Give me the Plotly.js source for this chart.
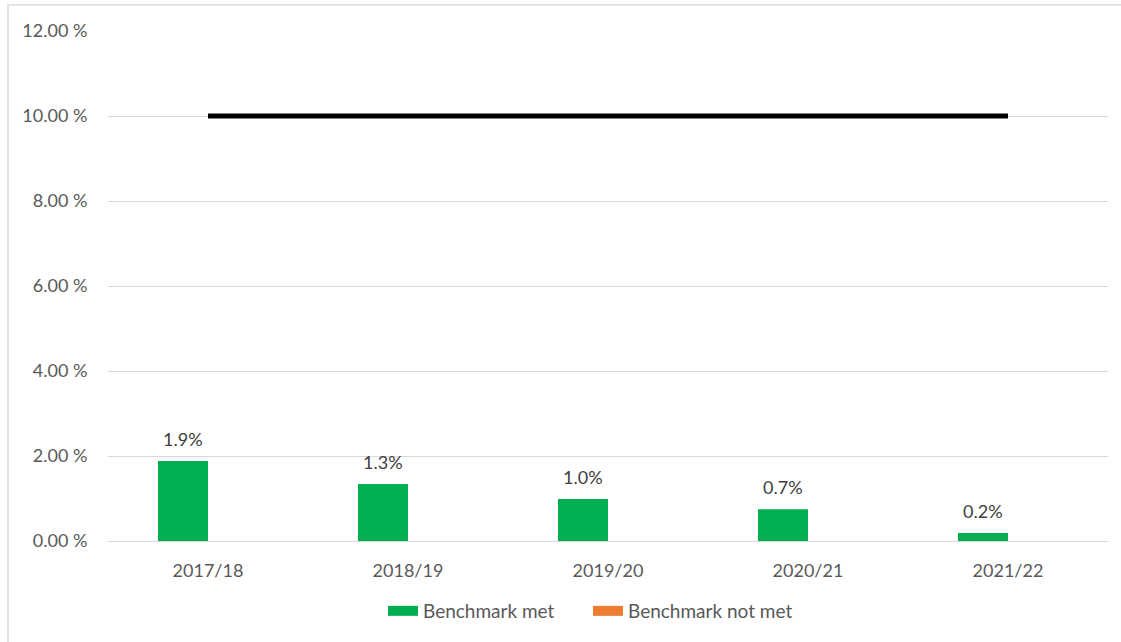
<!DOCTYPE html>
<html><head><meta charset="utf-8">
<script src="https://cdn.plot.ly/plotly-3.0.1.min.js"></script>
<style>
html,body{margin:0;padding:0;background:#fff;overflow:hidden;}
#frame{position:absolute;left:7px;top:4px;width:1114px;height:638px;border-top:2px solid #e3e3e3;border-left:2px solid #e3e3e3;box-sizing:border-box;}
#chart{position:absolute;left:0;top:0;width:1121px;height:642px;}
</style></head>
<body>
<div id="frame"></div>
<div id="chart"></div>
<script>
const categories = ["2017/18","2018/19","2019/20","2020/21","2021/22"];
const benchmarkMet = [1.88,1.34,0.99,0.75,0.19];
const benchmarkMetLabels = ["1.9%","1.3%","1.0%","0.7%","0.2%"];
const benchmarkNotMet = [0,0,0,0,0];
const benchmarkLine = [10,10,10,10,10];
const yTicks = [0,2,4,6,8,10,12];
const yTickLabels = ["0.00 %","2.00 %","4.00 %","6.00 %","8.00 %","10.00 %","12.00 %"];

const fontFam = "Lato, 'Open Sans', sans-serif";
const fs = 18;
const traces = [
  {type:'bar', name:'Benchmark met', x:categories, y:benchmarkMet,
   marker:{color:'#00b050'}, showlegend:false, legendgroup:'met'},
  {type:'bar', name:'Benchmark not met', x:categories, y:benchmarkNotMet,
   marker:{color:'#ed7d31'}, showlegend:false, legendgroup:'notmet'},
  {type:'scatter', mode:'lines', name:'Benchmark', x:categories, y:benchmarkLine,
   line:{color:'#000000',width:5}, showlegend:false},
  {type:'scatter', mode:'lines', name:'Benchmark met', x:[categories[0]], y:[null],
   line:{color:'#00b050',width:11}, legendgroup:'met'},
  {type:'scatter', mode:'lines', name:'Benchmark not met', x:[categories[0]], y:[null],
   line:{color:'#ed7d31',width:11}, legendgroup:'notmet'}
];
const annotations = categories.map((c,i)=>({
  x:c, y:benchmarkMet[i], xref:'x', yref:'y', text:benchmarkMetLabels[i],
  showarrow:false, yanchor:'bottom', yshift:9, xshift:-25,
  font:{family:fontFam,size:fs,color:'#404040'}
}));
const layout = {
  width:1121, height:642,
  margin:{l:108,r:13,t:31,b:101},
  paper_bgcolor:'rgba(0,0,0,0)', plot_bgcolor:'rgba(0,0,0,0)',
  barmode:'group', bargap:0.5, bargroupgap:0,
  font:{family:fontFam,size:fs,color:'#595959'},
  xaxis:{type:'category', showgrid:false, zeroline:false, showline:false,
         ticks:'outside', ticklen:13, tickcolor:'rgba(0,0,0,0)',
         tickfont:{size:fs,color:'#595959'}},
  yaxis:{range:[0,12], tickmode:'array', tickvals:yTicks, ticktext:yTickLabels,
         showgrid:true, gridcolor:'#d9d9d9', gridwidth:1, zeroline:true,
         zerolinecolor:'#d9d9d9', zerolinewidth:1, ticks:'outside', ticklen:16,
         tickcolor:'rgba(0,0,0,0)', tickfont:{size:fs,color:'#595959'}},
  legend:{orientation:'h', x:0.48, xanchor:'center', y:-0.1, yanchor:'top',
          font:{size:19,color:'#595959'}, itemwidth:30, entrywidth:160},
  annotations:annotations,
  showlegend:true
};
Plotly.newPlot('chart', traces, layout, {displayModeBar:false, staticPlot:true});
</script>
</body></html>
